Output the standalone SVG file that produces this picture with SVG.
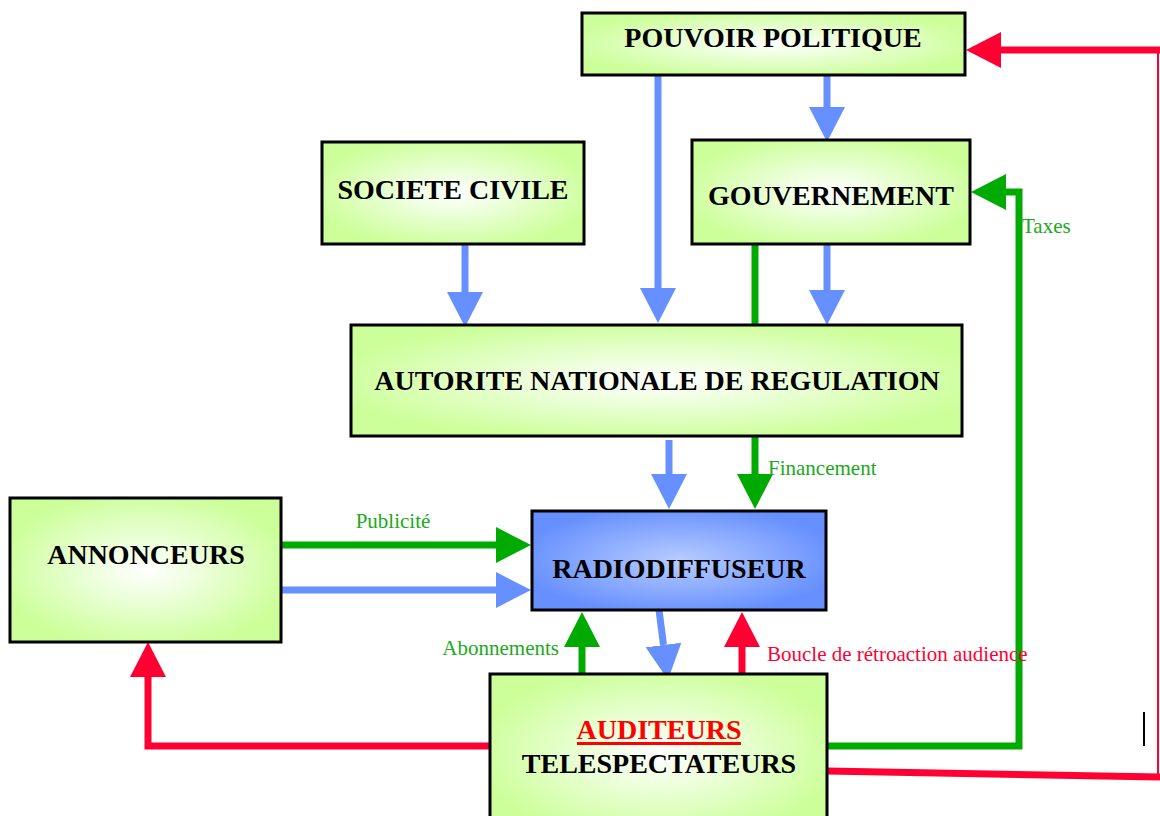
<svg xmlns="http://www.w3.org/2000/svg" width="1160" height="816" viewBox="0 0 1160 816">
<defs>
<radialGradient id="gg" cx="50%" cy="50%" r="55%">
<stop offset="0" stop-color="#ffffff"/>
<stop offset="0.3" stop-color="#f0ffe2"/>
<stop offset="1" stop-color="#ccff99"/>
</radialGradient>
<radialGradient id="bg" cx="50%" cy="50%" r="55%">
<stop offset="0" stop-color="#b8ccff"/>
<stop offset="1" stop-color="#6690ff"/>
</radialGradient>
<marker id="mG" markerUnits="userSpaceOnUse" markerWidth="36" markerHeight="38" refX="0" refY="19" orient="auto"><path d="M0,1 L35,19 L0,37 z" fill="#00aa00"/></marker>
<marker id="mB" markerUnits="userSpaceOnUse" markerWidth="36" markerHeight="38" refX="0" refY="19" orient="auto"><path d="M0,1 L35,19 L0,37 z" fill="#6690ff"/></marker>
<marker id="mR" markerUnits="userSpaceOnUse" markerWidth="36" markerHeight="38" refX="0" refY="19" orient="auto"><path d="M0,1 L35,19 L0,37 z" fill="#ff0033"/></marker>
</defs>
<style>
.box{fill:url(#gg);stroke:#000;stroke-width:3}
.boxb{fill:url(#bg);stroke:#000;stroke-width:3}
.t{font-family:"Liberation Serif","Times New Roman",serif;font-weight:bold;font-size:28px;fill:#000;text-anchor:middle}
.lbl{font-family:"Liberation Serif","Times New Roman",serif;font-size:21px}
.g{fill:#1aaa1a}
.r{fill:#ff0033}
.cg{stroke:#00aa00;stroke-width:7;fill:none}
.cb{stroke:#6690ff;stroke-width:7;fill:none}
.cr{stroke:#ff0033;stroke-width:7;fill:none}
</style>
<g id="connectors">
<path class="cb" d="M465,244 V292" marker-end="url(#mB)"/>
<path class="cb" d="M658,76 V288" marker-end="url(#mB)"/>
<path class="cb" d="M827,76 V107" marker-end="url(#mB)"/>
<path class="cg" d="M755,244 V325"/>
<path class="cb" d="M827,244 V290" marker-end="url(#mB)"/>
<path class="cb" d="M669,440 V474" marker-end="url(#mB)"/>
<path class="cg" d="M755,436 V474" marker-end="url(#mG)"/>
<path class="cg" d="M281,545 H496" marker-end="url(#mG)"/>
<path class="cb" d="M281,590 H496" marker-end="url(#mB)"/>
<path class="cg" d="M582,674 V647" marker-end="url(#mG)"/>
<path class="cb" d="M659,610 L663.5,645" marker-end="url(#mB)"/>
<path class="cr" d="M742,674 V647" marker-end="url(#mR)"/>
<path class="cr" d="M490,746 H148 V677" marker-end="url(#mR)"/>
<path class="cg" d="M827,746 H1019 V192 H1006" marker-end="url(#mG)"/>
<path class="cr" d="M827,771 L1160,777"/>
<path d="M1158,50 V777" stroke="#ff0033" stroke-width="2" fill="none"/>
<path class="cr" d="M1160,50 H1001" marker-end="url(#mR)"/>
<path d="M1144,712 V746" stroke="#000" stroke-width="2"/>
<text class="lbl g" x="768" y="475">Financement</text>
<text class="lbl g" x="393" y="528" text-anchor="middle">Publicité</text>
<text class="lbl g" x="559" y="655" text-anchor="end">Abonnements</text>
<text class="lbl r" x="767" y="661">Boucle de rétroaction audience</text>
<text class="lbl g" x="1022" y="233">Taxes</text>
</g>
<g id="pouvoir">
<rect class="box" x="582" y="13" width="383" height="62"/>
<text class="t" x="773" y="47">POUVOIR POLITIQUE</text>
</g>
<g id="societe">
<rect class="box" x="322" y="142" width="262" height="102"/>
<text class="t" x="453" y="199">SOCIETE CIVILE</text>
</g>
<g id="gouvernement">
<rect class="box" x="692" y="140" width="278" height="104"/>
<text class="t" x="831" y="205">GOUVERNEMENT</text>
</g>
<g id="anr">
<rect class="box" x="351" y="325" width="611" height="111"/>
<text class="t" x="657" y="390">AUTORITE NATIONALE DE REGULATION</text>
</g>
<g id="annonceurs">
<rect class="box" x="10" y="498" width="271" height="144"/>
<text class="t" x="146" y="564">ANNONCEURS</text>
</g>
<g id="radio">
<rect class="boxb" x="532" y="511" width="294" height="99"/>
<text class="t" x="679" y="578">RADIODIFFUSEUR</text>
</g>
<g id="auditeurs">
<rect class="box" x="490" y="674" width="337" height="160"/>
<text class="t" x="659" y="739" style="fill:#ff0000">AUDITEURS</text>
<rect x="577" y="742" width="164" height="3" fill="#ff0000"/>
<text class="t" x="659" y="773">TELESPECTATEURS</text>
</g>
</svg>
